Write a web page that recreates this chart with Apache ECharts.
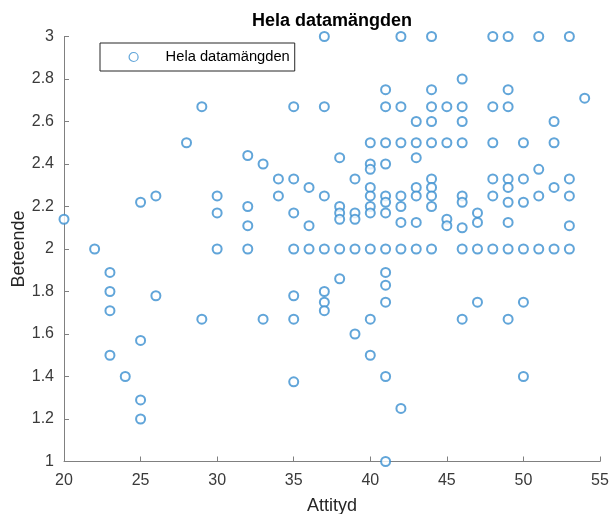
<!DOCTYPE html>
<html>
<head>
<meta charset="utf-8">
<script src="https://cdn.jsdelivr.net/npm/echarts@6/dist/echarts.min.js"></script>
<style>html,body{margin:0;padding:0;background:#fff}#c{width:609px;height:514px}</style>
</head>
<body>
<div id="c"></div>
<script>
const title = 'Hela datamängden';
const xName = 'Attityd';
const yName = 'Beteende';
const xTicks = [20, 25, 30, 35, 40, 45, 50, 55];
const yTicks = [1, 1.2, 1.4, 1.6, 1.8, 2, 2.2, 2.4, 2.6, 2.8, 3];

const attityd = [
  20,
  22,
  23, 23, 23, 23,
  24,
  25, 25, 25, 25,
  26, 26,
  28,
  29, 29,
  30, 30, 30,
  32, 32, 32, 32,
  33, 33,
  34, 34,
  35, 35, 35, 35, 35, 35, 35,
  36, 36, 36,
  37, 37, 37, 37, 37, 37, 37,
  38, 38, 38, 38, 38, 38,
  39, 39, 39, 39, 39,
  40, 40, 40, 40, 40, 40, 40, 40, 40, 40,
  41, 41, 41, 41, 41, 41, 41, 41, 41, 41, 41, 41, 41,
  42, 42, 42, 42, 42, 42, 42, 42,
  43, 43, 43, 43, 43, 43, 43,
  44, 44, 44, 44, 44, 44, 44, 44, 44, 44,
  45, 45, 45, 45,
  46, 46, 46, 46, 46, 46, 46, 46, 46,
  47, 47, 47, 47,
  48, 48, 48, 48, 48, 48,
  49, 49, 49, 49, 49, 49, 49, 49, 49,
  50, 50, 50, 50, 50, 50,
  51, 51, 51, 51,
  52, 52, 52, 52,
  53, 53, 53, 53, 53,
  54
];
const beteende = [
  2.14,
  2.0,
  1.89, 1.8, 1.71, 1.5,
  1.4,
  2.22, 1.57, 1.29, 1.2,
  2.25, 1.78,
  2.5,
  2.67, 1.67,
  2.25, 2.17, 2.0,
  2.44, 2.2, 2.11, 2.0,
  2.4, 1.67,
  2.33, 2.25,
  2.67, 2.33, 2.17, 2.0, 1.78, 1.67, 1.375,
  2.29, 2.11, 2.0,
  3.0, 2.67, 2.25, 2.0, 1.8, 1.75, 1.71,
  2.43, 2.2, 2.17, 2.14, 2.0, 1.86,
  2.33, 2.17, 2.14, 2.0, 1.6,
  2.5, 2.4, 2.375, 2.29, 2.25, 2.2, 2.17, 2.0, 1.67, 1.5,
  2.75, 2.67, 2.5, 2.4, 2.25, 2.22, 2.17, 2.0, 1.89, 1.83, 1.75, 1.4, 1.0,
  3.0, 2.67, 2.5, 2.25, 2.2, 2.125, 2.0, 1.25,
  2.6, 2.5, 2.43, 2.29, 2.25, 2.125, 2.0,
  3.0, 2.75, 2.67, 2.6, 2.5, 2.33, 2.29, 2.25, 2.2, 2.0,
  2.67, 2.5, 2.14, 2.11,
  2.8, 2.67, 2.6, 2.5, 2.25, 2.22, 2.1, 2.0, 1.67,
  2.17, 2.125, 2.0, 1.75,
  3.0, 2.67, 2.5, 2.33, 2.25, 2.0,
  3.0, 2.75, 2.67, 2.33, 2.29, 2.22, 2.125, 2.0, 1.67,
  2.5, 2.33, 2.22, 2.0, 1.75, 1.4,
  3.0, 2.375, 2.25, 2.0,
  2.6, 2.5, 2.29, 2.0,
  3.0, 2.33, 2.25, 2.11, 2.0,
  2.71
];

const points = attityd.map((x, i) => [x, beteende[i]]);
const FONT = 'Liberation Sans, Arial, sans-serif';
const BLUE = '#3a8fd0';
const chart = echarts.init(document.getElementById('c'), null, {renderer: 'canvas'});
chart.setOption({
  animation: false,
  backgroundColor: '#fff',
  title: {
    text: title, left: 332, top: 12, textAlign: 'center', padding: 0,
    textStyle: {fontFamily: FONT, fontSize: 18, fontWeight: 'bold', color: '#000'}
  },
  legend: {
    left: 100, top: 43,
    padding: [6, 5, 6, 28.5],
    itemWidth: 9, itemHeight: 9, itemGap: 0,
    borderColor: '#262626', borderWidth: 1,
    itemStyle: {color: '#fff', borderColor: BLUE, borderWidth: 1.2},
    textStyle: {fontFamily: FONT, fontSize: 14.7, color: '#000', lineHeight: 16, padding: [0, 0, 0, 22.5]},
    data: [{name: title, icon: 'circle'}]
  },
  grid: {left: 64, right: 9, top: 36.5, bottom: 52.5, containLabel: false, outerBoundsMode: 'none'},
  xAxis: {
    type: 'value', min: xTicks[0], max: xTicks[xTicks.length - 1], interval: 5,
    name: xName, nameLocation: 'middle', nameGap: 36, nameMoveOverlap: false,
    nameTextStyle: {fontFamily: FONT, fontSize: 18, color: '#262626'},
    axisLine: {lineStyle: {color: '#808080', width: 1}},
    axisTick: {inside: true, length: 5, lineStyle: {color: '#808080'}},
    axisLabel: {fontFamily: FONT, fontSize: 16, color: '#3a3a3a', margin: 11},
    splitLine: {show: false}
  },
  yAxis: {
    type: 'value', min: yTicks[0], max: yTicks[yTicks.length - 1], interval: 0.2,
    name: yName, nameLocation: 'middle', nameGap: 36, nameRotate: 90, nameMoveOverlap: false,
    nameTextStyle: {fontFamily: FONT, fontSize: 18, color: '#262626'},
    axisLine: {show: true, lineStyle: {color: '#808080', width: 1}},
    axisTick: {show: true, inside: true, length: 5, lineStyle: {color: '#808080'}},
    axisLabel: {fontFamily: FONT, fontSize: 16, color: '#3a3a3a', margin: 10,
      formatter: v => String(Math.round(v * 10) / 10)},
    splitLine: {show: false}
  },
  series: [{
    name: title, type: 'scatter', data: points,
    symbol: 'emptyCircle', symbolSize: 9, clip: false,
    itemStyle: {color: BLUE, borderColor: BLUE, borderWidth: 1.2}
  }]
});
</script>
</body>
</html>
